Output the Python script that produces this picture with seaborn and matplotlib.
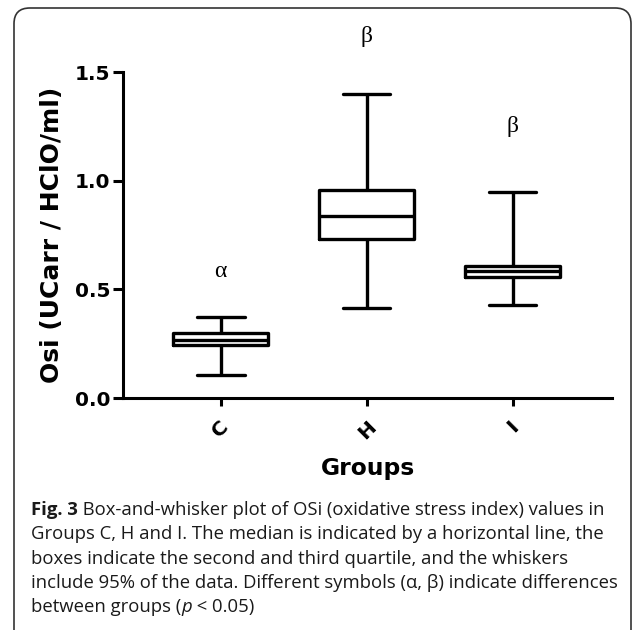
import numpy as np
import pandas as pd
import seaborn as sns
import matplotlib.pyplot as plt
from matplotlib.patches import FancyBboxPatch

# five-number summaries: whisker low, Q1, median, Q3, whisker high
groups = ["C", "H", "I"]
c_vals = [0.105, 0.245, 0.268, 0.300, 0.375]
h_vals = [0.413, 0.733, 0.837, 0.955, 1.397]
i_vals = [0.428, 0.558, 0.585, 0.609, 0.948]

# significance symbols above each group
sig_labels = ["\u03b1", "\u03b2", "\u03b2"]
sig_y = [0.58, 1.665, 1.25]

df = pd.DataFrame({
    "group": np.repeat(groups, 5),
    "osi": c_vals + h_vals + i_vals,
})

sns.set_style("ticks")
plt.rcParams["font.family"] = ["DejaVu Sans"]
plt.rcParams.update({"text.color": "black", "axes.labelcolor": "black",
                     "xtick.color": "black", "ytick.color": "black",
                     "axes.edgecolor": "black"})

fig = plt.figure(figsize=(6.33, 6.30), dpi=100)
ax = fig.add_axes([123 / 633, 1 - 398 / 630, 489 / 633, 326 / 630])

# with 5 points per group and whis=(0, 100) seaborn draws exactly these quartiles/whiskers
sns.boxplot(data=df, x="group", y="osi", order=groups, whis=(0, 100), width=0.65,
            fill=False, color="black", linecolor="black", linewidth=2.4, ax=ax)

ax.set_xlim(-0.67, 2.68)
ax.set_ylim(0, 1.5)
ax.set_yticks([0.0, 0.5, 1.0, 1.5])
ax.set_yticklabels(["0.0", "0.5", "1.0", "1.5"], fontsize=14.5, fontweight="bold")
ax.set_xticks(range(len(groups)))
ax.set_xticklabels(groups, rotation=45, fontsize=14.5, fontweight="bold", ha="center")
ax.tick_params(axis="y", length=7, width=2.2, pad=2, colors="black")
ax.tick_params(axis="x", length=6, width=2.2, pad=8, colors="black")
sns.despine(ax=ax)
for s in ["left", "bottom"]:
    ax.spines[s].set_linewidth(2.2)
    ax.spines[s].set_color("black")

ax.set_xlabel("Groups", fontsize=16.8, fontweight="bold", labelpad=10, color="black")
ax.set_ylabel("Osi (UCarr / HClO/ml)", fontsize=18, fontweight="bold", labelpad=8, color="black")

for xi, (lab, yv) in enumerate(zip(sig_labels, sig_y)):
    ax.text(xi, yv, lab, ha="center", va="center", fontsize=17, color="black",
            family="Liberation Serif", clip_on=False)

# caption frame
frame = FancyBboxPatch((14 / 633, -0.05), 617 / 633, 1 - 8 / 630 + 0.05,
                       boxstyle="round,pad=0,rounding_size=0.025",
                       transform=fig.transFigure, fill=False, lw=1.2, ec="#333333")
fig.patches.append(frame)

cap_font = "Open Sans"
cap_size = 13.3
line_y = [515, 539, 564, 588, 612]


def chain(pieces, y):
    last = None
    for txt, kw in pieces:
        if last is None:
            last = fig.text(31 / 633, 1 - y / 630, txt, fontsize=cap_size, family=cap_font,
                            va="baseline", ha="left", color="#1a1a1a", **kw)
        else:
            last = ax.annotate(txt, xy=(1, 0), xycoords=last, va="bottom", ha="left",
                               fontsize=cap_size, family=cap_font, color="#1a1a1a",
                               annotation_clip=False, **kw)


chain([("Fig. 3", {"fontweight": "bold"}),
       (" Box-and-whisker plot of OSi (oxidative stress index) values in", {})], line_y[0])
chain([("Groups C, H and I. The median is indicated by a horizontal line, the", {})], line_y[1])
chain([("boxes indicate the second and third quartile, and the whiskers", {})], line_y[2])
chain([("include 95% of the data. Different symbols (\u03b1, \u03b2) indicate differences", {})], line_y[3])
chain([("between groups (", {}), ("p", {"style": "italic"}), (" < 0.05)", {})], line_y[4])

fig.savefig("out.png", dpi=100)
